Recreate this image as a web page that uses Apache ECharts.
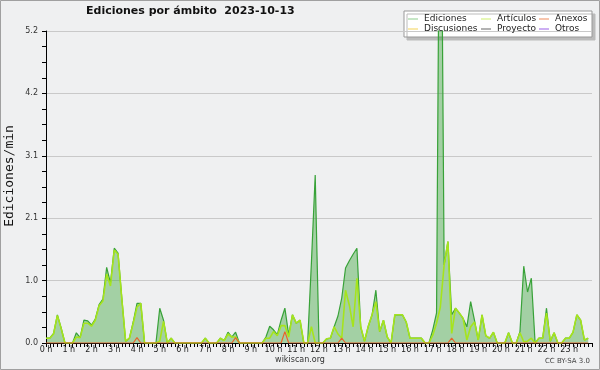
<!DOCTYPE html>
<html>
<head>
<meta charset="utf-8">
<script src="https://cdn.jsdelivr.net/npm/echarts@6/dist/echarts.min.js"></script>
<style>
html, body { margin: 0; padding: 0; background: #eff0f1; }
#chart { width: 600px; height: 370px; }
</style>
</head>
<body>
<div id="chart"></div>
<script>
// one value every 10 minutes, 00:00 -> 23:50
const pasoMin = 10;
const yEtiquetas = ['0.0', '1.0', '2.1', '3.1', '4.2', '5.2'];

const ediciones = [
  0.08, 0.08, 0.16, 0.47, 0.25, 0, 0, 0, 0.17, 0.09, 0.38, 0.37,
  0.3, 0.4, 0.64, 0.73, 1.26, 1.0, 1.58, 1.5, 0.75, 0.03, 0.08, 0.35,
  0.66, 0.66, 0, 0, 0, 0, 0.58, 0.38, 0, 0.08, 0, 0,
  0, 0, 0, 0, 0, 0, 0.08, 0, 0, 0, 0.08, 0.04,
  0.18, 0.1, 0.18, 0, 0, 0, 0, 0, 0, 0, 0.1, 0.28,
  0.22, 0.14, 0.38, 0.58, 0.14, 0.47, 0.33, 0.38, 0, 0, 1.34, 2.8,
  0, 0, 0.07, 0.08, 0.27, 0.45, 0.75, 1.25, 1.37, 1.48, 1.58, 0.27,
  0.03, 0.28, 0.47, 0.88, 0.19, 0.38, 0.1, 0, 0.47, 0.47, 0.47, 0.35,
  0.08, 0.08, 0.08, 0.08, 0, 0, 0.22, 0.5, 10, 1.3, 1.69, 0.47,
  0.58, 0.5, 0.41, 0.27, 0.69, 0.38, 0.05, 0.47, 0.12, 0.08, 0.18, 0,
  0, 0, 0.17, 0, 0, 0.19, 1.28, 0.85, 1.08, 0, 0.08, 0.08,
  0.58, 0.03, 0.17, 0, 0, 0.08, 0.08, 0.18, 0.47, 0.38, 0.05, 0.08
];
const articulos = [
  0.08, 0.08, 0.15, 0.46, 0.24, 0, 0, 0, 0.1, 0.09, 0.33, 0.33,
  0.28, 0.38, 0.62, 0.7, 1.15, 0.95, 1.55, 1.48, 0.73, 0.03, 0.08, 0.33,
  0.6, 0.66, 0, 0, 0, 0, 0.03, 0.36, 0, 0.08, 0, 0,
  0, 0, 0, 0, 0, 0, 0.08, 0, 0, 0, 0.08, 0.04,
  0.15, 0.1, 0.1, 0, 0, 0, 0, 0, 0, 0, 0.08, 0.08,
  0.19, 0.12, 0.29, 0.29, 0.1, 0.47, 0.33, 0.38, 0, 0, 0.27, 0,
  0, 0, 0.07, 0.08, 0.27, 0.15, 0.08, 0.88, 0.63, 0.27, 1.08, 0.27,
  0.03, 0.28, 0.47, 0.69, 0.19, 0.38, 0.1, 0, 0.47, 0.47, 0.47, 0.35,
  0.08, 0.08, 0.08, 0.08, 0, 0, 0.13, 0.33, 0.6, 1.3, 1.69, 0.16,
  0.58, 0.5, 0.41, 0.05, 0.27, 0.35, 0.05, 0.47, 0.12, 0.08, 0.18, 0,
  0, 0, 0.17, 0, 0, 0.17, 0.02, 0.03, 0.08, 0, 0.08, 0.08,
  0.5, 0.03, 0.17, 0, 0, 0.08, 0.08, 0.18, 0.47, 0.38, 0.05, 0.08
];
const anexos = [
  0, 0, 0, 0, 0, 0, 0, 0, 0, 0, 0, 0,
  0, 0, 0, 0, 0, 0, 0, 0, 0, 0, 0, 0,
  0.09, 0, 0, 0, 0, 0, 0, 0, 0, 0, 0, 0,
  0, 0, 0, 0, 0, 0, 0, 0, 0, 0, 0, 0,
  0, 0, 0.09, 0, 0, 0, 0, 0, 0, 0, 0, 0,
  0, 0, 0, 0.19, 0, 0, 0, 0, 0, 0, 0, 0,
  0, 0, 0, 0, 0, 0, 0.08, 0, 0, 0, 0, 0,
  0, 0, 0, 0, 0, 0, 0, 0, 0, 0, 0, 0,
  0, 0, 0, 0, 0, 0, 0, 0, 0, 0, 0, 0.08,
  0, 0, 0, 0, 0, 0, 0, 0, 0, 0, 0, 0,
  0, 0, 0, 0, 0, 0, 0, 0, 0, 0, 0, 0,
  0, 0, 0, 0, 0, 0, 0, 0, 0, 0, 0, 0
];
const discusiones = [];
const proyecto = [];
const otros = [];

const pts = arr => arr.map((v, i) => [i * pasoMin / 60, v]);
const fuente = 'DejaVu Sans';

const chart = echarts.init(document.getElementById('chart'));

function linea(name, data, color, width, extra) {
  return Object.assign({
    name: name,
    type: 'line',
    data: pts(data),
    symbol: 'none',
    animation: false,
    itemStyle: { color: color },
    lineStyle: { color: color, width: width }
  }, extra || {});
}

function leyenda(left, items) {
  return {
    left: left,
    top: 14,
    orient: 'vertical',
    itemGap: 0,
    itemWidth: 10,
    itemHeight: 1,
    icon: 'rect',
    selectedMode: false,
    padding: 0,
    textStyle: { fontFamily: fuente, fontSize: 9, color: '#222', lineHeight: 10, padding: [0, 0, 0, 1] },
    data: items.map(it => ({ name: it[0], itemStyle: { color: it[1] } }))
  };
}

chart.setOption({
  backgroundColor: '#eff0f1',
  animation: false,
  title: {
    text: 'Ediciones por ámbito  2023-10-13',
    left: 86,
    top: 6,
    padding: 0,
    textStyle: { fontFamily: fuente, fontSize: 11, fontWeight: 'bold', color: '#111' }
  },
  legend: [
    leyenda(408, [['Ediciones', '#8ccc8c'], ['Discusiones', '#f2d257']]),
    leyenda(481, [['Artículos', '#cdee6c'], ['Proyecto', '#666666']]),
    leyenda(539, [['Anexos', '#ee8a5a'], ['Otros', '#9a5ee6']])
  ],
  grid: { left: 46, right: 8, top: 31, bottom: 27, containLabel: false, outerBoundsMode: 'none' },
  xAxis: {
    type: 'value',
    min: 0,
    max: 24,
    interval: 1,
    z: 3,
    axisLine: { lineStyle: { color: '#000', width: 1 } },
    axisTick: { show: true, length: 4, lineStyle: { color: '#000' } },
    minorTick: { show: true, splitNumber: 6, length: 4, lineStyle: { color: '#000' } },
    splitLine: { show: false },
    axisLabel: {
      fontFamily: fuente, fontSize: 8, color: '#222', margin: 3,
      formatter: v => (v < 24 ? v + ' h' : '')
    }
  },
  yAxis: {
    type: 'value',
    min: 0,
    max: 5.2,
    interval: 1.04,
    z: 3,
    axisLine: { show: true, lineStyle: { color: '#000', width: 1 } },
    axisTick: { show: true, length: 4, lineStyle: { color: '#000' } },
    minorTick: { show: true, splitNumber: 4, length: 4, lineStyle: { color: '#000' } },
    splitLine: { show: true, lineStyle: { color: '#c9c9c9' } },
    axisLabel: {
      fontFamily: fuente, fontSize: 8, color: '#333', margin: 8,
      formatter: (v, i) => yEtiquetas[i]
    }
  },
  graphic: [
    { type: 'rect', z: 3, shape: { x: 404, y: 11, width: 188, height: 26 },
      style: { fill: '#fff', stroke: '#999', lineWidth: 1, shadowColor: '#bbb', shadowOffsetX: 3, shadowOffsetY: 3 } },
    { type: 'rect', z: 0, silent: true, shape: { x: 0.5, y: 0.5, width: 599, height: 369 },
      style: { fill: 'none', stroke: '#a0a0a0', lineWidth: 1 } },
    { type: 'text', x: 10, y: 176, rotation: Math.PI / 2,
      style: { text: 'Ediciones/min', fontFamily: 'DejaVu Sans Mono', fontSize: 13, fill: '#111', align: 'center', verticalAlign: 'middle' } },
    { type: 'text', left: 'center', top: 356,
      style: { text: 'wikiscan.org', fontFamily: fuente, fontSize: 8, fill: '#333' } },
    { type: 'text', right: 10, top: 358,
      style: { text: 'CC BY-SA 3.0', fontFamily: fuente, fontSize: 7, fill: '#444' } }
  ],
  series: [
    linea('Ediciones', ediciones, '#38a238', 1.2, { areaStyle: { color: '#3aa53a', opacity: 0.42 } }),
    linea('Artículos', articulos, '#a6e41c', 1.6),
    linea('Anexos', anexos, '#e8642c', 1.2),
    linea('Discusiones', discusiones, '#eecb3c', 1),
    linea('Proyecto', proyecto, '#444444', 1),
    linea('Otros', otros, '#8e44e6', 1)
  ]
});
</script>
</body>
</html>
